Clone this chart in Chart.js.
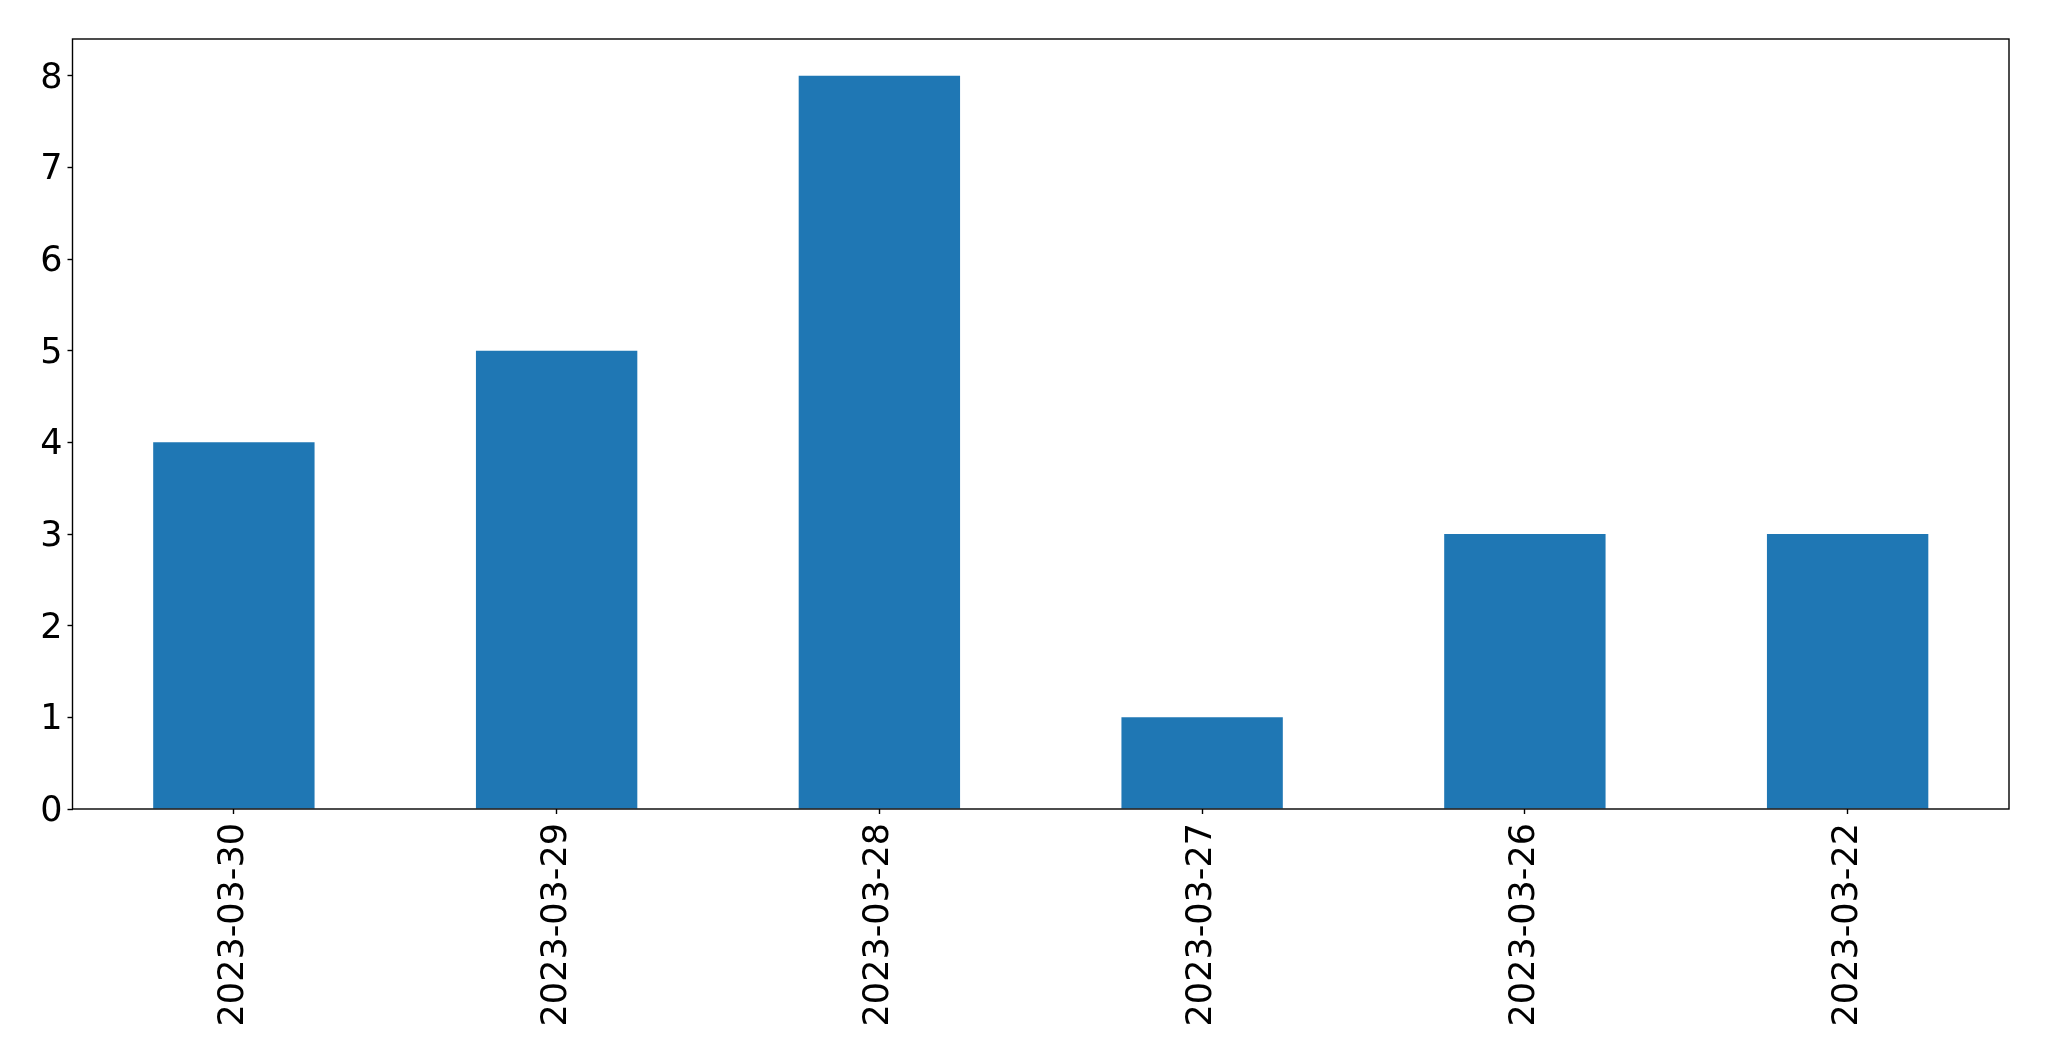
<!DOCTYPE html>
<html>
<head>
<meta charset="utf-8">
<script src="https://cdn.jsdelivr.net/npm/chart.js@4"></script>
<style>
html,body{margin:0;padding:0;background:#fff;}
canvas{display:block;}
</style>
</head>
<body>
<canvas id="c" width="2049" height="1061" style="width:2049px;height:1061px"></canvas>
<script>
const categories = ["2023-03-30","2023-03-29","2023-03-28","2023-03-27","2023-03-26","2023-03-22"];
const values = [4, 5, 8, 1, 3, 3];
const yTicks = [0, 1, 2, 3, 4, 5, 6, 7, 8];

const frame = {
  id: 'frame',
  afterDatasetsDraw(chart) {
    const a = chart.chartArea, ctx = chart.ctx;
    ctx.save();
    ctx.strokeStyle = '#000';
    ctx.lineWidth = 1.4;
    ctx.strokeRect(a.left, a.top, a.right - a.left, a.bottom - a.top);
    ctx.restore();
  }
};

new Chart(document.getElementById('c'), {
  type: 'bar',
  data: {
    labels: categories,
    datasets: [{
      data: values,
      backgroundColor: '#1f77b4',
      borderWidth: 0,
      barPercentage: 0.5,
      categoryPercentage: 1.0
    }]
  },
  options: {
    responsive: false,
    animation: false,
    devicePixelRatio: 1,
    layout: { padding: { top: 39, right: 40, left: 0, bottom: 0 } },
    plugins: { legend: { display: false }, tooltip: { enabled: false } },
    scales: {
      x: {
        offset: true,
        grid: { display: true, drawOnChartArea: false, drawTicks: true, tickLength: 5, tickColor: '#000', tickWidth: 1.4, offset: false },
        border: { display: false },
        ticks: {
          color: '#000',
          font: { family: 'DejaVu Sans', size: 35 },
          maxRotation: 90, minRotation: 90,
          padding: 9,
          autoSkip: false
        },
        afterFit(s) { s.height = 252; }
      },
      y: {
        min: 0, max: 8.4,
        grid: { display: true, drawOnChartArea: false, drawTicks: true, tickLength: 5, tickColor: '#000', tickWidth: 1.4 },
        border: { display: false },
        ticks: {
          color: '#000',
          font: { family: 'DejaVu Sans', size: 35 },
          padding: 5,
          labelOffset: 3
        },
        afterBuildTicks(s) { s.ticks = yTicks.map(v => ({ value: v })); },
        afterFit(s) { s.width = 72.5; }
      }
    }
  },
  plugins: [frame]
});
</script>
</body>
</html>
